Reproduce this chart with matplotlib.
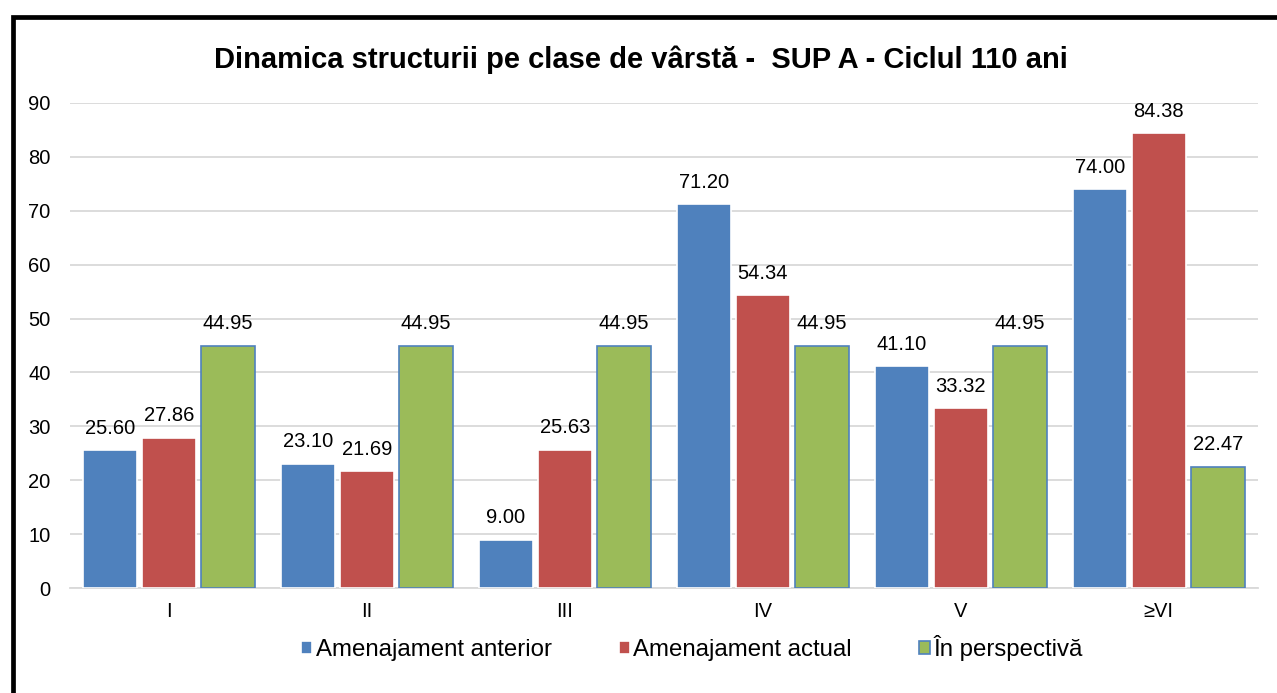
import numpy as np
import matplotlib
matplotlib.use("Agg")
import matplotlib.pyplot as plt
from matplotlib.patches import Rectangle

plt.rcParams['font.family'] = ['Liberation Sans', 'DejaVu Sans']

# chart data
clase = ['I', 'II', 'III', 'IV', 'V', '≥VI']
anterior = [25.60, 23.10, 9.00, 71.20, 41.10, 74.00]
actual = [27.86, 21.69, 25.63, 54.34, 33.32, 84.38]
perspectiva = [44.95, 44.95, 44.95, 44.95, 44.95, 22.47]
serii = ['Amenajament anterior', 'Amenajament actual', 'În perspectivă']
titlu = 'Dinamica structurii pe clase de vârstă -  SUP A - Ciclul 110 ani'

culori = ['#4F81BD', '#C0504D', '#9BBB59']
margini = ['#FFFFFF', '#FFFFFF', '#4F81BD']

fig = plt.figure(figsize=(12.77, 6.93), dpi=100)
ax = fig.add_axes([0.0548, 0.1515, 0.9302, 0.70])

x = np.arange(len(clase))
w = 0.27
step = 0.298
for k, (vals, c, e, name) in enumerate(zip([anterior, actual, perspectiva], culori, margini, serii)):
    pos = x + (k - 1) * step
    bars = ax.bar(pos, vals, width=w, color=c, edgecolor=e, linewidth=1.2, label=name, zorder=3)
    for b, v in zip(bars, vals):
        ax.annotate(f'{v:.2f}', (b.get_x() + b.get_width() / 2, v),
                    xytext=(0, 9), textcoords='offset points',
                    ha='center', va='bottom', fontsize=14.5, color='black')

ax.set_ylim(0, 90)
ax.set_xlim(-0.5, len(clase) - 0.5)
ax.set_yticks(range(0, 91, 10))
ax.set_xticks(x)
ax.set_xticklabels(clase)
ax.tick_params(axis='both', length=0, labelsize=14.5)
ax.tick_params(axis='y', pad=14)
ax.tick_params(axis='x', pad=10)
ax.grid(axis='y', color='#D9D9D9', linewidth=1.3, zorder=0)
for s in ['top', 'right', 'left']:
    ax.spines[s].set_visible(False)
ax.spines['bottom'].set_color('#D9D9D9')
ax.spines['bottom'].set_linewidth(1.3)

fig.text(0.502, 1 - 60 / 693, titlu, ha='center', va='center',
         fontsize=21, fontweight='bold')

leg = fig.legend(loc='center', bbox_to_anchor=(0.542, 1 - 648 / 693), ncol=3,
                 frameon=False, fontsize=17.3, handlelength=0.45, handleheight=0.45,
                 handletextpad=0.15, columnspacing=2.8)

# thick black frame (cropped on right and bottom)
fig.patches.append(Rectangle((12.5 / 1277, -0.2), 1.5, 1 - 16.5 / 693 + 0.2,
                             transform=fig.transFigure, fill=False,
                             edgecolor='black', linewidth=3.4))

fig.savefig('out.png', dpi=100)
